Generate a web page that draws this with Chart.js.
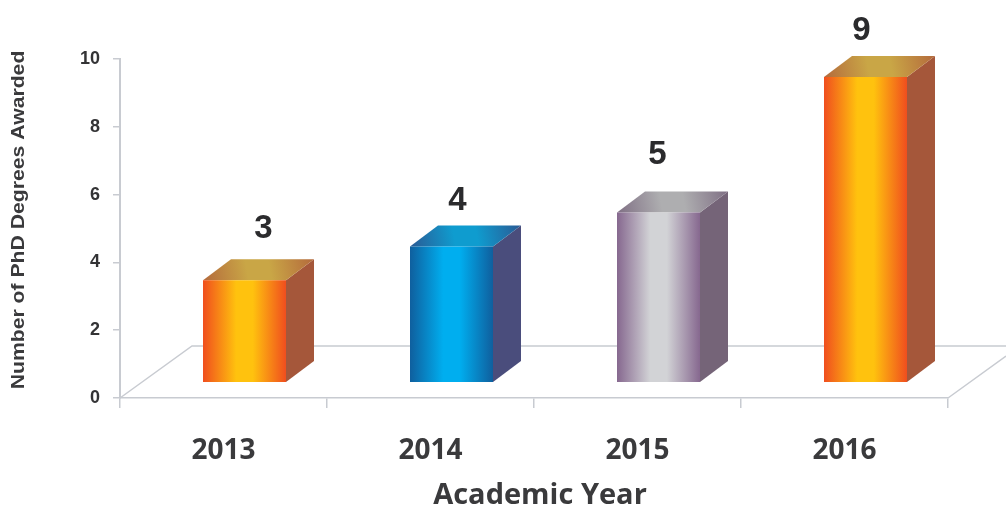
<!DOCTYPE html>
<html>
<head>
<meta charset="utf-8">
<style>
html, body { margin: 0; padding: 0; background: #fff; }
#wrap { width: 1006px; height: 509px; }
</style>
<script src="https://cdn.jsdelivr.net/npm/chart.js@4/dist/chart.umd.min.js"></script>
</head>
<body>
<div id="wrap"><canvas id="myChart" width="1006" height="509"></canvas></div>
<script>
const years = ['2013', '2014', '2015', '2016'];
const degrees = [3, 4, 5, 9];
const yTicks = [0, 2, 4, 6, 8, 10];
const xTitle = 'Academic Year';
const yTitle = 'Number of PhD Degrees Awarded';

// the fake 3d: bars stand a bit above the zero line and right of the category centre
const floorValue = 0.47;
const shiftX = 21;
const depthX = 28;
const depthY = 21;
const barShare = 83 / 207;
const lineGrey = '#c8cbd1';
const labelNudge = [[5, -9], [-8, -4], [-15, -16], [-18, -4]];

const palettes = [
    { edge: '#f04e1e', mid: '#ffc20e', side: '#a5573a', topEdge: '#b46a3c', topMid: '#c9a646' },
    { edge: '#0f5f9e', mid: '#00aeef', side: '#4a4d7c', topEdge: '#2a5a94', topMid: '#0f9ccf' },
    { edge: '#86688f', mid: '#d2d3d6', side: '#756478', topEdge: '#7f6f84', topMid: '#aeaeb0' },
    { edge: '#f04e1e', mid: '#ffc20e', side: '#a5573a', topEdge: '#b46a3c', topMid: '#c9a646' }
];

function faceGradient(ctx, x0, y0, x1, y1, edge, mid) {
    let g = ctx.createLinearGradient(x0, y0, x1, y1);
    g.addColorStop(0, edge);
    g.addColorStop(0.4, mid);
    g.addColorStop(0.6, mid);
    g.addColorStop(1, edge);
    return g;
}

const fakeBars = {
    id: 'fakeBars',
    afterDatasetsUpdate(chart) {
        chart.getDatasetMeta(0).data.forEach(bar => { bar.x += shiftX; });
    },
    beforeDatasetsDraw(chart) {
        const ctx = chart.ctx, xs = chart.scales.x, ys = chart.scales.y;
        const left = xs.left, right = xs.right, bottom = ys.bottom;
        const backY = bottom - 52;
        // floor of the chart, behind the bars
        ctx.save();
        ctx.strokeStyle = lineGrey;
        ctx.lineWidth = 1.5;
        ctx.beginPath();
        ctx.moveTo(left, bottom);
        ctx.lineTo(left + 72, backY);
        ctx.lineTo(chart.width, backY);
        ctx.moveTo(right, bottom);
        ctx.lineTo(right + 58, bottom - 42);
        ctx.stroke();
        // right side and top of each bar
        chart.getDatasetMeta(0).data.forEach((bar, i) => {
            const p = palettes[i];
            const half = bar.width / 2;
            const l = bar.x - half, r = bar.x + half;
            ctx.fillStyle = p.side;
            ctx.beginPath();
            ctx.moveTo(r, bar.y);
            ctx.lineTo(r + depthX, bar.y - depthY);
            ctx.lineTo(r + depthX, bar.base - depthY);
            ctx.lineTo(r, bar.base);
            ctx.closePath();
            ctx.fill();
            ctx.fillStyle = faceGradient(ctx, l, bar.y, r + depthX, bar.y - depthY, p.topEdge, p.topMid);
            ctx.beginPath();
            ctx.moveTo(l, bar.y);
            ctx.lineTo(l + depthX, bar.y - depthY);
            ctx.lineTo(r + depthX, bar.y - depthY);
            ctx.lineTo(r, bar.y);
            ctx.closePath();
            ctx.fill();
        });
        ctx.restore();
    },
    afterDatasetsDraw(chart) {
        const ctx = chart.ctx;
        ctx.save();
        ctx.fillStyle = '#2b2b2d';
        ctx.font = 'bold 33px "Liberation Sans"';
        ctx.textAlign = 'center';
        ctx.textBaseline = 'middle';
        chart.getDatasetMeta(0).data.forEach((bar, i) => {
            const n = labelNudge[i];
            ctx.fillText(degrees[i], bar.x + depthX / 2 + n[0], bar.y - depthY + n[1] - 21);
        });
        // axis titles sit off centre in the original, so they are placed here
        ctx.fillStyle = '#3a3a3c';
        ctx.font = 'bold 29px "Open Sans"';
        ctx.fillText(xTitle, 540, 496);
        ctx.translate(19, 220);
        ctx.rotate(-Math.PI / 2);
        ctx.scale(1.115, 1); // the original text is stretched along the axis
        ctx.font = 'bold 19px "Liberation Sans"';
        ctx.fillText(yTitle, 0, 0);
        ctx.restore();
    }
};

const ctx = document.getElementById('myChart').getContext('2d');

function barFill(c) {
    const xs = c.chart.scales.x;
    const p = palettes[c.dataIndex];
    const mid = xs ? xs.getPixelForValue(c.dataIndex) + shiftX : NaN;
    // the first pass happens before the scales have a size
    if (!isFinite(mid) || !xs.width) return p.mid;
    const half = xs.width / years.length * barShare / 2;
    return faceGradient(ctx, mid - half, 0, mid + half, 0, p.edge, p.mid);
}

new Chart(ctx, {
    type: 'bar',
    plugins: [fakeBars],
    data: {
        labels: years,
        datasets: [{
            data: degrees.map(v => [floorValue, floorValue + v]),
            backgroundColor: barFill,
            borderSkipped: false,
            barPercentage: 1,
            categoryPercentage: barShare
        }]
    },
    options: {
        responsive: false,
        animation: false,
        layout: { padding: { top: 59, right: 58, left: 0, bottom: 0 } },
        plugins: { legend: { display: false }, tooltip: { enabled: false } },
        scales: {
            x: {
                afterFit(scale) { scale.height = 111; },
                border: { color: lineGrey, width: 1.5 },
                grid: { offset: true, drawOnChartArea: false, color: lineGrey, lineWidth: 1.5, tickLength: 10 },
                ticks: {
                    color: '#3a3a3c',
                    font: { family: 'Open Sans', size: 28, weight: 'bold' },
                    padding: 26,
                    maxRotation: 0
                }
            },
            y: {
                min: 0,
                max: 10,
                afterFit(scale) { scale.width = 120; },
                afterBuildTicks(scale) { scale.ticks = yTicks.map(v => ({ value: v })); },
                border: { color: lineGrey, width: 2 },
                grid: { drawOnChartArea: false, color: lineGrey, lineWidth: 1.5, tickLength: 7 },
                ticks: {
                    color: '#333335',
                    font: { family: 'Liberation Sans', size: 18, weight: 'bold' },
                    padding: 13
                }
            }
        }
    }
});
</script>
</body>
</html>
